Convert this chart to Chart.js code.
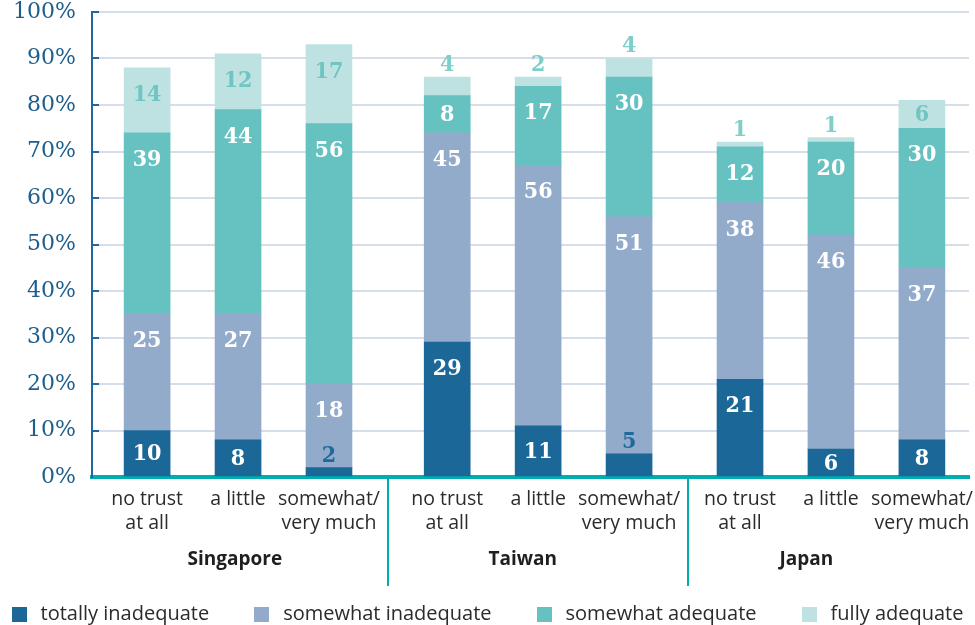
<!DOCTYPE html>
<html><head><meta charset="utf-8">
<script src="https://cdn.jsdelivr.net/npm/chart.js@4.4.1/dist/chart.umd.min.js"></script>
<style>html,body{margin:0;padding:0;background:#fff}#wrap{width:975px;height:625px;position:relative}</style>
</head><body><div id="wrap"><canvas id="c" width="975" height="625"></canvas></div>
<script>
// ---- data ----
const countries = ["Singapore", "Taiwan", "Japan"];
const trustLevels = [["no trust", "at all"], ["a little"], ["somewhat/", "very much"]];
const seriesNames = ["totally inadequate", "somewhat inadequate", "somewhat adequate", "fully adequate"];
const totallyInadequate  = [10, 8, 2, 29, 11, 5, 21, 6, 8];
const somewhatInadequate = [25, 27, 18, 45, 56, 51, 38, 46, 37];
const somewhatAdequate   = [39, 44, 56, 8, 17, 30, 12, 20, 30];
const fullyAdequate      = [14, 12, 17, 4, 2, 4, 1, 1, 6];
const yTickValues = [0, 10, 20, 30, 40, 50, 60, 70, 80, 90, 100];

// ---- layout constants (positions on the x value axis) ----
const groupShift = [0, 0.30, 0.52];
const groupLabelAt = [0.965, 4.13, 7.25];
const separatorAt = [2.645, 5.952];
const barPos = totallyInadequate.map((_, i) => i + groupShift[Math.floor(i / 3)]);

const colors = ["#1b6798", "#93abca", "#66c1c1", "#bee2e2"];
const insideLabel = ["#ffffff", "#ffffff", "#ffffff", "#6fc5c1"];
const outsideLabel = ["#1f6a9b", "#93abca", "#66c1c1", "#7ccfca"];
const seriesValues = [totallyInadequate, somewhatInadequate, somewhatAdequate, fullyAdequate];

const datasets = seriesValues.map((vals, k) => ({
  label: seriesNames[k],
  data: vals.map((v, i) => ({ x: barPos[i], y: v })),
  backgroundColor: colors[k],
  borderWidth: 0,
  barThickness: 46,
  insideLabelColor: insideLabel[k],
  outsideLabelColor: outsideLabel[k]
}));

const valueLabels = {
  id: 'valueLabels',
  afterDatasetsDraw(chart) {
    const ctx = chart.ctx;
    ctx.save();
    ctx.font = 'bold 23px "DejaVu Serif Condensed", "DejaVu Serif"';
    ctx.textAlign = 'center';
    ctx.textBaseline = 'middle';
    chart.data.datasets.forEach((ds, di) => {
      const meta = chart.getDatasetMeta(di);
      meta.data.forEach((bar, i) => {
        const v = ds.data[i].y;
        const top = Math.min(bar.y, bar.base), bottom = Math.max(bar.y, bar.base);
        const h = bottom - top;
        let y, color;
        if (h < 25) { y = top - 13; color = ds.outsideLabelColor; }
        else { y = Math.min(top + 26, (top + bottom) / 2); color = ds.insideLabelColor; }
        ctx.fillStyle = color;
        ctx.fillText(String(v), bar.x, y + 1);
      });
    });
    ctx.restore();
  }
};

const decorations = {
  id: 'decorations',
  afterDraw(chart) {
    const ctx = chart.ctx;
    const xs = chart.scales.x, ys = chart.scales.y;
    const area = chart.chartArea;
    ctx.save();
    // tick stubs on the y axis
    ctx.strokeStyle = '#24679a';
    ctx.lineWidth = 2;
    ys.ticks.forEach(t => {
      if (t.value === 0) return;
      const py = Math.round(ys.getPixelForValue(t.value));
      ctx.beginPath(); ctx.moveTo(area.left, py); ctx.lineTo(area.left + 7, py); ctx.stroke();
    });
    // group separators
    ctx.strokeStyle = '#00adb0';
    ctx.lineWidth = 2;
    separatorAt.forEach(s => {
      const px = Math.round(xs.getPixelForValue(s));
      ctx.beginPath(); ctx.moveTo(px, area.bottom + 2); ctx.lineTo(px, 586); ctx.stroke();
    });
    // group labels
    ctx.fillStyle = '#1f1f1f';
    ctx.font = 'bold 19px "Open Sans"';
    ctx.textAlign = 'center';
    ctx.textBaseline = 'middle';
    countries.forEach((c, g) => ctx.fillText(c, xs.getPixelForValue(groupLabelAt[g]), 560));
    // legend
    ctx.font = '20px "Open Sans"';
    ctx.textAlign = 'left';
    const box = 15, boxGap = 14, itemGap = 45, yc = 614.5;
    const widths = chart.data.datasets.map(d => box + boxGap + ctx.measureText(d.label).width);
    const total = widths.reduce((a, b) => a + b, 0) + itemGap * (widths.length - 1);
    let x = (chart.width - total) / 2;
    chart.data.datasets.forEach((d, k) => {
      ctx.fillStyle = d.backgroundColor;
      ctx.fillRect(Math.round(x), Math.round(yc - box / 2), box, box);
      ctx.fillStyle = '#2b2b2b';
      ctx.fillText(d.label, x + box + boxGap, yc);
      x += widths[k] + itemGap;
    });
    ctx.restore();
  }
};

new Chart(document.getElementById('c'), {
  type: 'bar',
  data: { datasets },
  plugins: [valueLabels, decorations],
  options: {
    responsive: false,
    animation: false,
    devicePixelRatio: 1,
    layout: { padding: { top: 12, right: 6, bottom: 0, left: 0 } },
    plugins: { legend: { display: false }, tooltip: { enabled: false } },
    scales: {
      x: {
        type: 'linear', stacked: true, min: -0.606, max: 9.038, offset: false,
        grid: { display: true, drawOnChartArea: false, drawTicks: false, color: 'rgba(0,0,0,0)' },
        border: { display: true, color: '#00adb0', width: 4 },
        afterBuildTicks: s => { s.ticks = barPos.map(v => ({ value: v })); },
        afterFit: s => { s.height = 148; s.paddingLeft = 0; s.paddingRight = 0; },
        ticks: {
          autoSkip: false, maxRotation: 0, minRotation: 0, padding: 11, color: '#2b2b2b',
          font: { family: '"Open Sans"', size: 19.5, lineHeight: 1.2 },
          callback: (v, i) => trustLevels[i % 3]
        }
      },
      y: {
        stacked: true, min: 0, max: 100,
        afterBuildTicks: s => { s.ticks = yTickValues.map(v => ({ value: v })); },
        afterFit: s => { s.width = 92; s.paddingTop = 0; s.paddingBottom = 0; },
        ticks: { padding: 16, color: '#1d5e8c', font: { family: '"DejaVu Serif"', size: 22 }, callback: v => v + '%' },
        grid: { color: c => (c.tick && c.tick.value === 0) ? 'rgba(0,0,0,0)' : '#d6deea', lineWidth: 2, drawTicks: false },
        border: { color: '#24679a', width: 2 }
      }
    }
  }
});
</script></body></html>
